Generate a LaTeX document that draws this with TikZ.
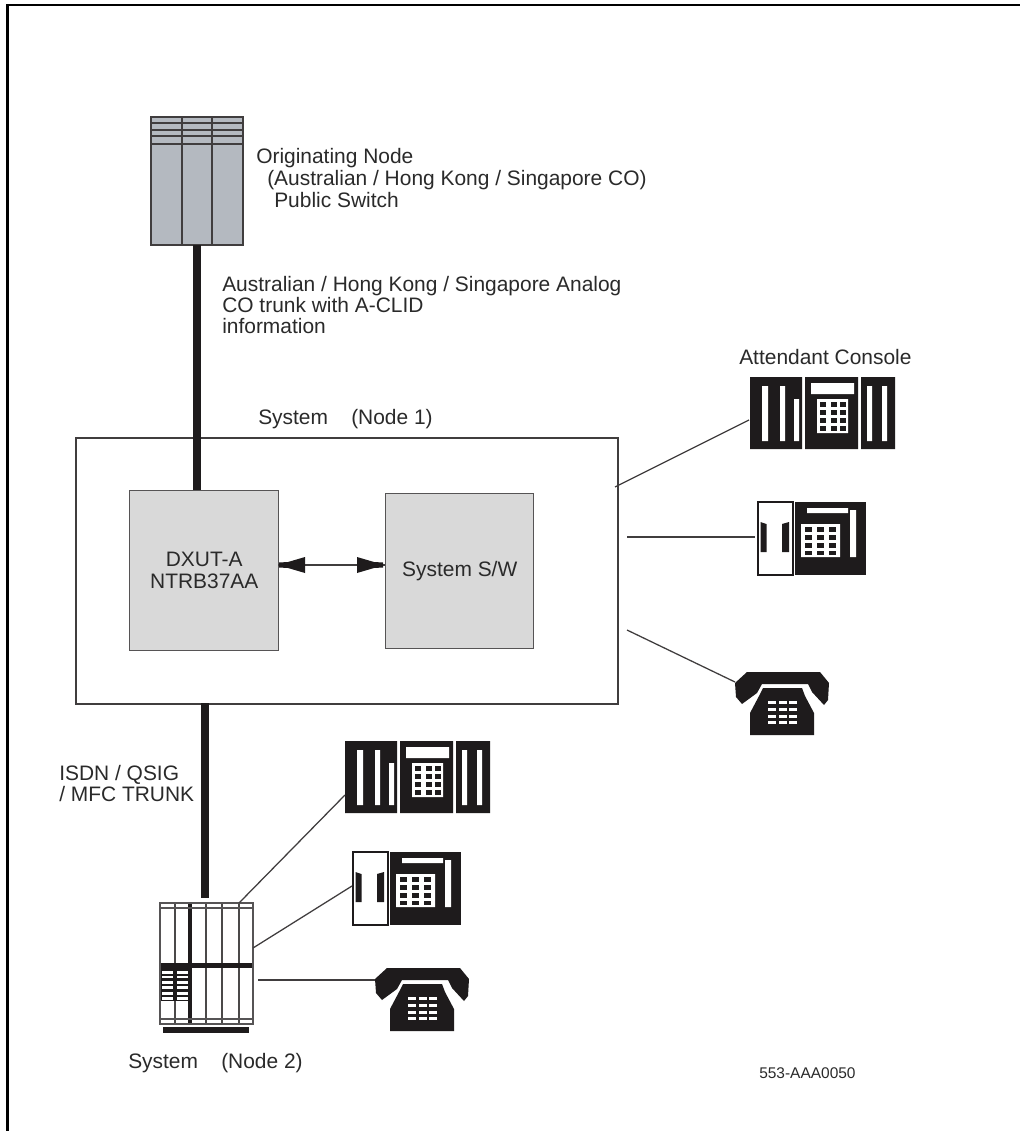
\documentclass[tikz,border=0pt]{standalone}
\usepackage{fontspec}
\setmainfont{Liberation Sans}
\usetikzlibrary{arrows.meta}
\definecolor{ink}{HTML}{1E1B1C}
\definecolor{txt}{HTML}{2A2A2A}
\definecolor{boxgray}{HTML}{D9D9D9}
\definecolor{switchfill}{HTML}{B4B9C0}
\tikzset{
  x=0.75pt,y=-0.75pt,
  label text/.style={font=\fontsize{15.7pt}{17pt}\selectfont,text=txt,inner sep=0,anchor=base west,align=left},
  frame line/.style={draw=black,line width=1.6pt},
  sysbox/.style={draw=ink!85,line width=1.2pt,fill=white,inner sep=0,anchor=north west},
  cardbox/.style={draw=ink!75,line width=1.1pt,fill=boxgray,inner sep=0,anchor=north west,font=\fontsize{15.7pt}{16.5pt}\selectfont,text=txt,align=center},
  trunk/.style={line width=5.5pt,draw=ink},
  wire/.style={line width=0.95pt,draw=ink!85},
  console/.pic={
    \fill[ink] (0,0) rectangle (52,72) (55,0) rectangle (108,72) (111,0) rectangle (145,72);
    \fill[white] (12,9) rectangle (18,64) (30,9) rectangle (35,64) (44,22) rectangle (49,64)
      (61,6) rectangle (104,17) (67,22) rectangle (98,56) (117,9) rectangle (122,64) (132,9) rectangle (137,64);
    \foreach \kx in {70,80.5,90} \foreach \ky in {25,33,41,49}
      \fill[ink] (\kx,\ky) rectangle +(6,5);
  },
  deskset/.pic={
    \fill[white,draw=ink,line width=0.8pt] (0,0) rectangle (35,73);
    \fill[ink] (2.5,20) -- (8.5,22) -- (8.5,50) -- (2.5,50) -- cycle (24,22) -- (31,20) -- (31,50) -- (24,50) -- cycle;
    \fill[ink] (37,0) rectangle (108,73);
    \fill[white] (49,6) rectangle (90,11) (92,8) rectangle (98,55) (43,22) rectangle (82,55);
    \foreach \kx in {46.5,59,71} \foreach \ky in {25,33,41,48.5}
      \fill[ink] (\kx,\ky) rectangle +(7,4.6);
  },
  handset/.pic={
    \fill[ink] (27,22) -- (100,22) -- (109,33) -- (108,50) -- (104,55) -- (92,42) -- (88,34) -- (42,34) -- (37,43) -- (22,54) -- (16,47) -- (15,33) -- cycle;
    \fill[ink] (43,38) -- (82,38) -- (85,46) -- (94,63) -- (94,85) -- (30,85) -- (30,63) -- (39,46) -- cycle;
    \foreach \kx in {48,59,69} \foreach \ky in {51,58,65,71}
      \fill[white] (\kx,\ky) rectangle +(8,3);
  },
  switchpic/.pic={
    \fill[switchfill] (0,0) rectangle (92,128);
    \foreach \yy in {0,6,13,19,27}
      \draw[ink!85,line width=1.2pt] (0,\yy) -- (92,\yy);
    \draw[ink!85,line width=1.3pt] (0,0) rectangle (92,128);
    \draw[ink!85,line width=1.5pt] (31,0) -- (31,128) (61,0) -- (61,128);
  },
  cabinet/.pic={
    \fill[white] (0,0) rectangle (93,121);
    \foreach \xx in {15,46,62,79}
      \draw[ink!80,line width=1.2pt] (\xx,0) -- (\xx,121);
    \fill[ink] (0,60) rectangle (93,65);
    \fill[ink] (0,65) rectangle (30,98);
    \foreach \yy/\hh in {68/2.5,72.5/2.5,78/3,83/3,89/2.5,94/3}{
      \fill[white] (2,\yy) rectangle +(11,\hh);
      \fill[white] (17,\yy) rectangle +(11,\hh);
    }
    \draw[ink,line width=2.4pt] (30,0) -- (30,121);
    \draw[ink!75,line width=1.1pt] (0,0) rectangle (93,121) (0,5) -- (93,5) (0,116) -- (93,116);
    \fill[ink] (3,124) rectangle (89,130);
  },
}
\begin{document}
\begin{tikzpicture}
\useasboundingbox (0,0) rectangle (1020,1131);
\fill[white] (0,0) rectangle (1020,1131);
\draw[frame line] (7.5,1131) -- (7.5,5) -- (1020,5);

% main boxes
\node[sysbox,minimum width=406.5pt,minimum height=199.5pt] (sys1) at (75,437) {};
\node[cardbox,minimum width=111.75pt,minimum height=120pt] (dxut) at (129,490) {DXUT-A\\NTRB37AA};
\node[cardbox,minimum width=111pt,minimum height=116.25pt] (sw) at (385,493) {\raisebox{2.2pt}{System S/W}};

% switch and cabinet
\pic at (151,117) {switchpic};
\coordinate (switchbot) at (197,245);
\pic at (160,903) {cabinet};
\coordinate (cabtop) at (205,898);

% trunks
\coordinate (dxuttop) at (197,490);
\draw[trunk] (switchbot) -- (dxuttop);
\coordinate (sysbot) at (205,703);
\draw[trunk] (sysbot) -- (cabtop);

% internal arrow
\coordinate (arrowa) at (278,565);
\coordinate (arrowb) at (385,565);
\draw[line width=1.5pt,draw=ink!85] (arrowa) -- (arrowb);
\fill[ink] (279,562.5) -- (288,562) -- (305,557) -- (305,573) -- (288,568) -- (279,567.5) -- cycle;
\fill[ink] (357,557) -- (374,562) -- (383,562.5) -- (383,567.5) -- (374,568) -- (357,573) -- cycle;

% station equipment
\pic at (750,377) {console};
\pic at (758,502) {deskset};
\pic at (720,650) {handset};
\pic at (345,741) {console};
\pic at (353,852) {deskset};
\pic at (360,946) {handset};

% wires
\coordinate (w1a) at (615,487); \coordinate (w1b) at (749,420);
\coordinate (w2a) at (627,537); \coordinate (w2b) at (755,537);
\coordinate (w3a) at (627,630); \coordinate (w3b) at (735,682);
\coordinate (w4a) at (239,903); \coordinate (w4b) at (345,795);
\coordinate (w5a) at (253,948); \coordinate (w5b) at (352,886);
\coordinate (w6a) at (258,980); \coordinate (w6b) at (375,980);
\draw[wire] (w1a) -- (w1b);
\draw[wire] (w2a) -- (w2b);
\draw[wire] (w3a) -- (w3b);
\draw[wire] (w4a) -- (w4b);
\draw[wire] (w5a) -- (w5b);
\draw[wire] (w6a) -- (w6b);

% labels
\node[label text] (t1) at (256,163) {Originating Node};
\node[label text] (t2) at (267,185) {(Australian / Hong Kong / Singapore CO)};
\node[label text] (t3) at (274,207) {Public Switch};
\node[label text] (t4) at (222,291) {Australian / Hong Kong / Singapore Analog};
\node[label text] (t5) at (222,312) {CO trunk with A-CLID};
\node[label text] (t6) at (222,333) {information};
\node[label text] (t7) at (258,424) {System};
\node[label text] (t8) at (351,424) {(Node 1)};
\node[label text] (t9) at (739,364) {Attendant Console};
\node[label text] (t10) at (59,780) {ISDN / QSIG};
\node[label text] (t11) at (59,801) {/ MFC TRUNK};
\node[label text] (t12) at (128,1068) {System};
\node[label text] (t13) at (221,1068) {(Node 2)};
\node[label text,font=\fontsize{11.6pt}{12pt}\selectfont] (t14) at (759,1078) {553-AAA0050};
\end{tikzpicture}
\end{document}
